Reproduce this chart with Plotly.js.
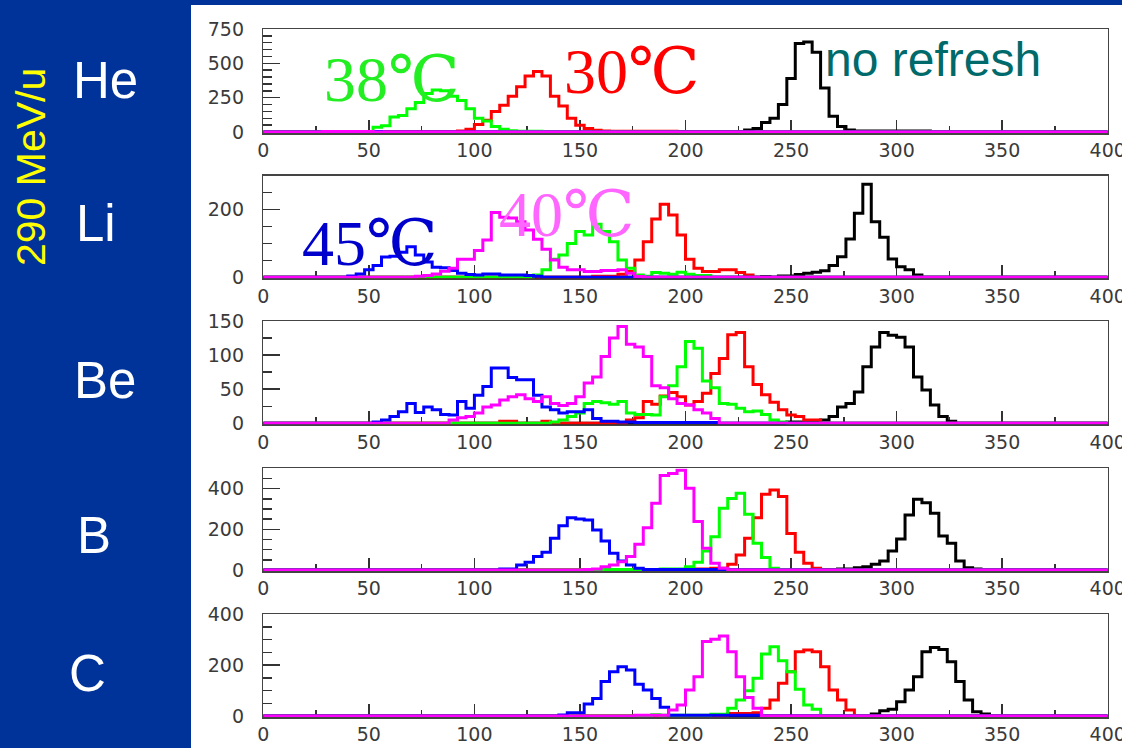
<!DOCTYPE html>
<html><head><meta charset="utf-8">
<script src="https://cdn.plot.ly/plotly-3.0.1.min.js"></script>
<style>html,body{margin:0;padding:0;background:#fff;overflow:hidden}#chart{width:1122px;height:748px}</style>
</head><body><div id="chart"></div>
<script>
// ---------- data ----------
const BIN_WIDTH = 4;
const X_RANGE = [0, 400];
const PANELS = ['He', 'Li', 'Be', 'B', 'C'];
const Y_MAX = [750, 300, 150, 500, 400];
const Y_MAJOR = [250, 200, 50, 200, 200];
const Y_MINOR = [50, 50, 25, 50, 50];
const SERIES = ['no refresh', '30℃', '38℃', '45℃', '40℃'];
const SERIES_COLORS = ['#000000', '#ff0000', '#00ff00', '#0000ff', '#ff00ff'];
const ENERGY = '290 MeV/u';

// He  (start bin, counts per 4-unit bin)
const HE_BLACK_START = 176;
const HE_BLACK = [3,3,3,3,3,3,3,3,3,3,3,3,3, 15,25,70,100,200,390,645,655,580,320,115,40,15, 8,8,8,8,8,8,8,8,8];
const HE_RED_START = 92;
const HE_RED = [8,20,55,85,150,195,260,330,408,440,408,260,190,100,50,25,12,8,5,5,5,5,5,5,5,5];
const HE_GREEN_START = 52;
const HE_GREEN = [35,45,110,120,170,215,280,305,300,260,230,170,100,80,40,20,10,5,5,5];
const HE_BLUE_START = 52;
const HE_BLUE = [3];
const HE_MAGENTA_START = 28;
const HE_MAGENTA = [4,4,4,4,4,4];

// Li
const LI_BLACK_START = 236;
const LI_BLACK = [2,0,4,4,8,12,15,19,35,61,113,189,275,164,118,54,31,22,7];
const LI_RED_START = 156;
const LI_RED = [3,3,3,9,17,51,105,172,216,184,125,53,27,17,17,22,22,14,7];
const LI_GREEN_START = 128;
const LI_GREEN = [7,22,53,66,100,135,125,157,135,105,51,27,7,3,14,12,9,15,9,5,5];
const LI_BLUE_START = 40;
const LI_BLUE = [4,10,22,35,60,62,74,90,66,45,30,28,20,12,8,7,10,10,7,7,7,5,3];
const LI_MAGENTA_START = 72;
const LI_MAGENTA = [3,5,10,18,27,53,53,79,110,191,177,175,164,140,112,83,51,30,22,22,17,17,20,20,22,12,2];

// Be
const BE_BLACK_START = 248;
const BE_BLACK = [2,2,2,3,5,10,24,29,46,83,112,133,129,126,112,68,49,27,10,3];
const BE_RED_START = 112;
const BE_RED = [3,3,0,0,0,3,0,0,0,0,0,0,0,0,0, 5,8,32,28,40,45,39,27,32,44,73,95,130,133,83,57,42,31,20,12,10,5,5];
const BE_GREEN_START = 136;
const BE_GREEN = [2,5,10,15,29,32,30,28,32,15,13,13,12,39,55,83,120,110,62,52,29,28,22,17,18,13,5,2];
const BE_BLUE_START = 52;
const BE_BLUE = [2,5,10,17,29,16,24,20,13,12,32,22,41,54,81,81,67,64,64,41,24,20,15,17,17,20,7,3,3,2,2,1,1,1,1,1,1,1,1,1,1];
const BE_MAGENTA_START = 88;
const BE_MAGENTA = [5,8,10,15,24,27,34,39,42,36,32,39,29,26,29,39,59,68,98,125,142,116,112,98,55,52,36,29,27,20,15,7];

// B
const B_BLACK_START = 260;
const B_BLACK = [3,3,3,5,5,11,16,28,44,93,152,270,348,331,279,167,131,44,11,5];
const B_RED_START = 204;
const B_RED = [5,5,8,8,28,74,156,257,372,393,361,180,87,33,8];
const B_GREEN_START = 160;
const B_GREEN = [3,3,3,3,3,3,3,5,5,5,16,38,93,164,303,352,377,274,131,61,8,3];
const B_BLUE_START = 112;
const B_BLUE = [5,5,25,38,66,87,156,218,257,251,246,197,143,82,44,25,8,3,3,3,3,3,3,3,3,3,3];
const B_MAGENTA_START = 152;
const B_MAGENTA = [3,5,16,25,41,66,126,208,328,464,475,490,402,238,107,33,8];

// C
const C_BLACK_START = 288;
const C_BLACK = [8,21,26,56,102,154,252,269,261,213,135,63,17,8];
const C_RED_START = 220;
const C_RED = [10,10,10,13,30,63,128,174,252,259,252,193,102,63,24];
const C_GREEN_START = 184;
const C_GREEN = [5,3,3,3,3,3,3,7,7,30,63,99,148,243,272,217,174,105,43,26];
const C_BLUE_START = 140;
const C_BLUE = [4,13,13,47,69,135,174,193,180,125,102,69,34,3,3,3,3,3,3,3,3,3,3,3];
const C_MAGENTA_START = 176;
const C_MAGENTA = [3,3,3,3,24,43,102,154,292,301,314,252,154,73,30];

const PANEL_DATA = [
  [[HE_BLACK_START, HE_BLACK], [HE_RED_START, HE_RED], [HE_GREEN_START, HE_GREEN], [HE_BLUE_START, HE_BLUE], [HE_MAGENTA_START, HE_MAGENTA]],
  [[LI_BLACK_START, LI_BLACK], [LI_RED_START, LI_RED], [LI_GREEN_START, LI_GREEN], [LI_BLUE_START, LI_BLUE], [LI_MAGENTA_START, LI_MAGENTA]],
  [[BE_BLACK_START, BE_BLACK], [BE_RED_START, BE_RED], [BE_GREEN_START, BE_GREEN], [BE_BLUE_START, BE_BLUE], [BE_MAGENTA_START, BE_MAGENTA]],
  [[B_BLACK_START, B_BLACK], [B_RED_START, B_RED], [B_GREEN_START, B_GREEN], [B_BLUE_START, B_BLUE], [B_MAGENTA_START, B_MAGENTA]],
  [[C_BLACK_START, C_BLACK], [C_RED_START, C_RED], [C_GREEN_START, C_GREEN], [C_BLUE_START, C_BLUE], [C_MAGENTA_START, C_MAGENTA]]
];

// ---------- layout geometry (pixels) ----------
const W = 1122, H = 748;
const PLOT_LEFT = 263.3, PLOT_RIGHT = 1107.7;
const PANEL_TOP = [29, 175.7, 321, 468.3, 614];
const PANEL_BOTTOM = [133, 278.3, 424.3, 571, 717];
const BASELINE_LIFT_PX = 1;
const px = p => p / W;
const py = p => 1 - p / H;

function histogram(start, counts) {
  const nb = (X_RANGE[1] - X_RANGE[0]) / BIN_WIDTH;
  const y = new Array(nb).fill(0);
  const s = Math.round((start - X_RANGE[0]) / BIN_WIDTH);
  counts.forEach((c, i) => { if (s + i < nb) y[s + i] = c; });
  const x = [];
  for (let i = 0; i <= nb; i++) x.push(X_RANGE[0] + i * BIN_WIDTH);
  y.push(y[nb - 1]);
  return { x, y };
}

const traces = [];
const layout = {
  width: W, height: H,
  margin: { l: 0, r: 0, t: 0, b: 0, pad: 0 },
  paper_bgcolor: '#ffffff', plot_bgcolor: '#ffffff',
  showlegend: false,
  shapes: [
    { type: 'rect', xref: 'paper', yref: 'paper', x0: 0, x1: px(191), y0: 0, y1: 1, fillcolor: '#003399', line: { width: 0 }, layer: 'below' },
    { type: 'rect', xref: 'paper', yref: 'paper', x0: px(191), x1: 1, y0: py(5), y1: 1, fillcolor: '#003399', line: { width: 0 }, layer: 'below' }
  ],
  annotations: []
};

const tickFont = { family: 'DejaVu Sans, sans-serif', size: 19, color: '#3a3a3a' };

PANELS.forEach((name, p) => {
  const n = p + 1;
  const xa = 'x' + (n === 1 ? '' : n), ya = 'y' + (n === 1 ? '' : n);
  PANEL_DATA[p].forEach((s, k) => {
    const h = histogram(s[0], s[1]);
    traces.push({
      type: 'scatter', mode: 'lines', x: h.x, y: h.y, xaxis: xa, yaxis: ya,
      name: SERIES[k], line: { color: SERIES_COLORS[k], width: 3, shape: 'hv' },
      hoverinfo: 'skip'
    });
  });
  const panelPx = PANEL_BOTTOM[p] - PANEL_TOP[p];
  const yMin = -Y_MAX[p] * BASELINE_LIFT_PX / (panelPx - BASELINE_LIFT_PX);
  layout['xaxis' + (n === 1 ? '' : n)] = {
    domain: [px(PLOT_LEFT), px(PLOT_RIGHT)], anchor: ya, range: X_RANGE,
    showline: true, mirror: true, linecolor: '#444444', linewidth: 1.5,
    ticks: 'inside', ticklen: 13, tickwidth: 1.5, tickcolor: '#333333',
    tick0: 0, dtick: 50, ticklabeloverflow: 'allow', layer: 'below traces',
    minor: { ticks: 'inside', dtick: 25, ticklen: 7, tickwidth: 1.5, tickcolor: '#333333', showgrid: false },
    showgrid: false, zeroline: false, tickfont: tickFont, fixedrange: true
  };
  layout['yaxis' + (n === 1 ? '' : n)] = {
    domain: [py(PANEL_BOTTOM[p]), py(PANEL_TOP[p])], anchor: xa, range: [yMin, Y_MAX[p]],
    showline: true, mirror: true, linecolor: '#444444', linewidth: 1.5,
    ticks: 'inside', ticklen: 17, tickwidth: 1.5, tickcolor: '#333333',
    tick0: 0, dtick: Y_MAJOR[p], layer: 'below traces',
    minor: { ticks: 'inside', tick0: 0, dtick: Y_MINOR[p], ticklen: 9, tickwidth: 1.5, tickcolor: '#333333', showgrid: false },
    showgrid: false, zeroline: false, tickfont: tickFont, ticklabelstandoff: 14, fixedrange: true
  };
  // element label in sidebar
  const labelX = [106, 96, 105, 94, 87][p];
  const labelY = [81, 224, 380, 535, 673][p];
  layout.annotations.push({
    xref: 'paper', yref: 'paper', x: px(labelX), y: py(labelY), xanchor: 'center', yanchor: 'middle',
    text: name, showarrow: false, font: { family: 'Liberation Sans, Arial, sans-serif', size: 51, color: '#ffffff' }
  });
});

// energy label
layout.annotations.push({
  xref: 'paper', yref: 'paper', x: px(31), y: py(167), xanchor: 'center', yanchor: 'middle', textangle: -90,
  text: ENERGY, showarrow: false, font: { family: 'Liberation Sans, Arial, sans-serif', size: 41, color: '#ffff00' }
});

// series labels
const serif = 'Liberation Serif, DejaVu Serif, serif';
const seriesLabels = [
  { text: SERIES[2], x: 392, y: 80, color: '#22ee22', family: serif, size: 64 },
  { text: SERIES[1], x: 632, y: 72, color: '#ff0000', family: serif, size: 64 },
  { text: SERIES[0], x: 933, y: 60, color: '#006a6a', family: 'Liberation Sans, Arial, sans-serif', size: 48 },
  { text: SERIES[3], x: 370, y: 244, color: '#0000cc', family: serif, size: 64 },
  { text: SERIES[4], x: 567, y: 215, color: '#ff66ff', family: serif, size: 64 }
];
seriesLabels.forEach(l => layout.annotations.push({
  xref: 'paper', yref: 'paper', x: px(l.x), y: py(l.y), xanchor: 'center', yanchor: 'middle',
  text: l.text, showarrow: false, font: { family: l.family, size: l.size, color: l.color }
}));

Plotly.newPlot('chart', traces, layout, { staticPlot: true, displayModeBar: false });
</script>
</body></html>
